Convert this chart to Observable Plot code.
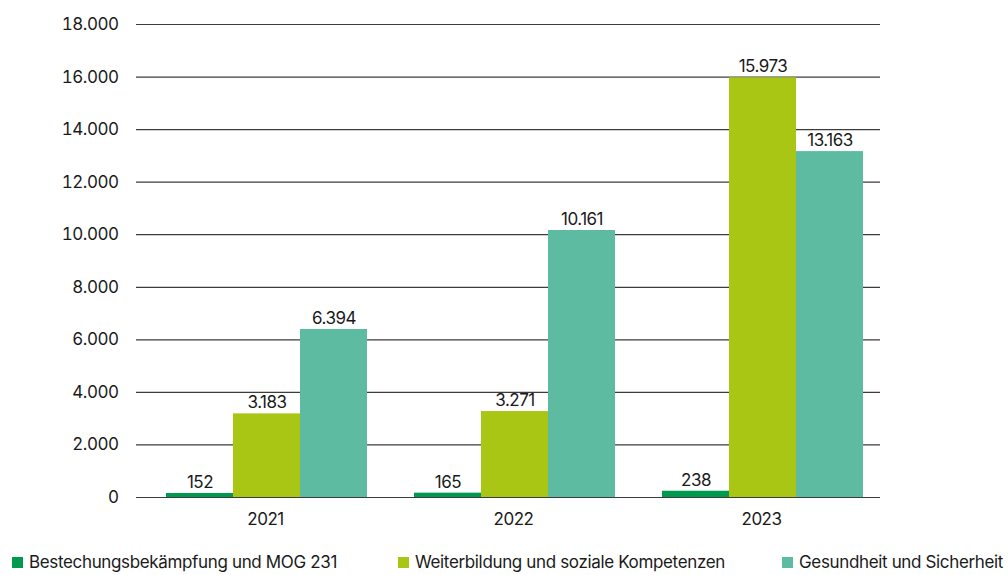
<!DOCTYPE html>
<html>
<head>
<meta charset="utf-8">
<script src="https://cdn.jsdelivr.net/npm/d3@7"></script>
<script src="https://cdn.jsdelivr.net/npm/@observablehq/plot@0.6"></script>
<style>
  html, body { margin: 0; padding: 0; background: #fff; }
  body { width: 1008px; height: 575px; overflow: hidden; font-family: Inter, "Liberation Sans", sans-serif; color: #1a1a1a; }
  #legend { position: relative; height: 38px; font-size: 17px; letter-spacing: -0.35px; }
  .item { position: absolute; top: 15px; display: flex; align-items: center; white-space: nowrap; }
  .sw { width: 11px; height: 11px; margin-right: 6px; }
</style>
</head>
<body>
<div id="chart"></div>
<div id="legend"></div>
<script>
const years = ["2021", "2022", "2023"];
const series = ["Bestechungsbekämpfung und MOG 231", "Weiterbildung und soziale Kompetenzen", "Gesundheit und Sicherheit"];
const valuesBestechung = [152, 165, 238];
const valuesWeiterbildung = [3183, 3271, 15973];
const valuesGesundheit = [6394, 10161, 13163];
const yTicks = [0, 2000, 4000, 6000, 8000, 10000, 12000, 14000, 16000, 18000];
const colors = ["#009A4E", "#AAC614", "#5CBBA0"];

const seriesValues = [valuesBestechung, valuesWeiterbildung, valuesGesundheit];
const data = [];
years.forEach((year, i) => series.forEach((s, j) => data.push({year, series: s, value: seriesValues[j][i]})));

const de = d3.formatLocale({decimal: ",", thousands: ".", grouping: [3], currency: ["", " €"]});
const fmt = de.format(",");

const chart = Plot.plot({
  width: 1008,
  height: 537,
  marginLeft: 136,
  marginRight: 128,
  marginTop: 24,
  marginBottom: 40,
  style: {fontFamily: "Inter, 'Liberation Sans', sans-serif", fontSize: "16px", color: "#1a1a1a", letterSpacing: "-0.5px"},
  fx: {domain: years, padding: 0, label: null},
  x: {domain: series, paddingInner: 0, paddingOuter: 0.324, align: 0.64, axis: null},
  y: {domain: [0, 18000], label: null},
  color: {domain: series, range: colors},
  marks: [
    Plot.ruleY(yTicks, {stroke: "#3c3c3c", strokeWidth: 1.2}),
    Plot.barY(data, {fx: "year", x: "series", y: "value", fill: "series"}),
    Plot.text(data, {fx: "year", x: "series", y: "value", text: d => fmt(d.value), dy: -11, fontSize: 17, fill: "#1a1a1a"}),
    Plot.axisY({ticks: yTicks, tickSize: 0, tickPadding: 18, tickFormat: fmt, fontSize: 17, label: null}),
    Plot.axisFx({anchor: "bottom", tickSize: 0, tickPadding: 15, dx: 5, fontSize: 17, label: null})
  ]
});
document.getElementById("chart").appendChild(chart);

const legend = document.getElementById("legend");
const legendLeft = [12, 398, 782];
series.forEach((s, j) => {
  const item = document.createElement("div");
  item.className = "item";
  item.style.left = legendLeft[j] + "px";
  item.innerHTML = `<span class="sw" style="background:${colors[j]}"></span><span>${s}</span>`;
  legend.appendChild(item);
});
</script>
</body>
</html>
